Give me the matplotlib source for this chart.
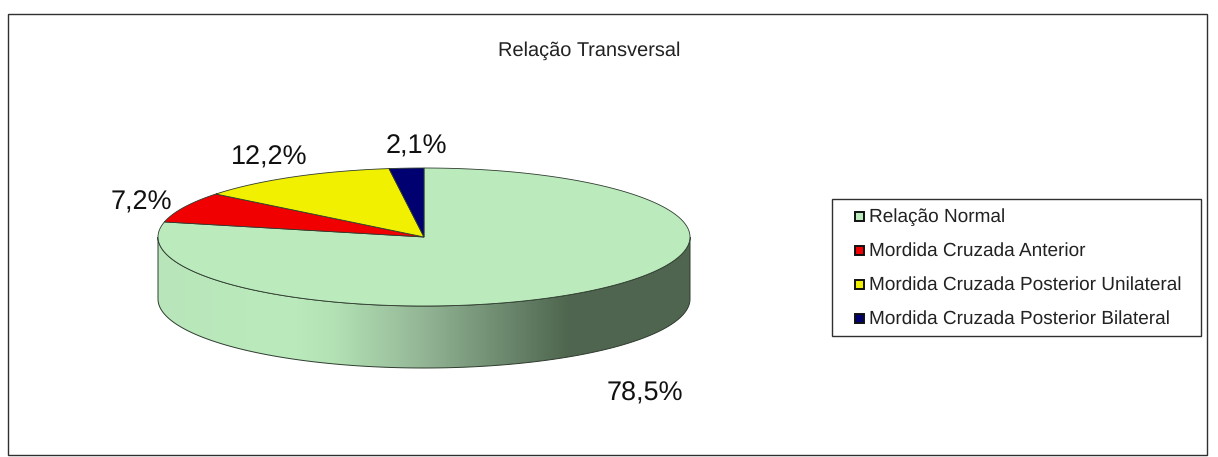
import numpy as np
import matplotlib
matplotlib.use("Agg")
import matplotlib.pyplot as plt
from matplotlib.patches import Polygon, Rectangle
from matplotlib.colors import LinearSegmentedColormap

plt.rcParams['font.family'] = ['Liberation Sans', 'DejaVu Sans']
plt.rcParams['text.hinting'] = 'none'
plt.rcParams['text.hinting_factor'] = 1

# Data
categories = ["Relação Normal", "Mordida Cruzada Anterior",
              "Mordida Cruzada Posterior Unilateral", "Mordida Cruzada Posterior Bilateral"]
values = [78.5, 7.2, 12.2, 2.1]
value_labels = ["78,5%", "7,2%", "12,2%", "2,1%"]
colors = ["#BBEBBD", "#F00000", "#F0F000", "#000070"]

W, H = 1218, 457
cx, cy, rx, ry, depth = 424, 237, 266, 69, 62

fig = plt.figure(figsize=(W / 100, H / 100), dpi=100)
ax = fig.add_axes([0, 0, 1, 1])
ax.set_xlim(0, W)
ax.set_ylim(H, 0)
ax.axis("off")

# outer frame
ax.add_patch(Rectangle((8, 14), 1199, 441, fc="white", ec="#303030", lw=1.0))
ax.text(589.5, 51, "Relação Transversal", ha="center", va="center", fontsize=14.5, color="#222222")


def ell(theta):
    return cx + rx * np.sin(theta), cy - ry * np.cos(theta)


# side wall of the pie with horizontal shading
t = np.linspace(np.pi / 2, 3 * np.pi / 2, 200)
x, y = ell(t)
side = np.column_stack([np.r_[x, x[::-1]], np.r_[y, y[::-1] + depth]])
side_patch = Polygon(side, closed=True, fc="none", ec="none")
ax.add_patch(side_patch)
shade = LinearSegmentedColormap.from_list("shade", [
    (0.0, "#B8E6BA"), (0.25, "#BBEBBD"), (0.33, "#B3E2B5"), (0.5, "#93B595"),
    (0.64, "#6F8C71"), (0.77, "#4F664F"), (1.0, "#4F654F")])
im = ax.imshow(np.linspace(0, 1, 256).reshape(1, -1), cmap=shade, aspect="auto",
               extent=[cx - rx, cx + rx, cy + ry + depth, cy], zorder=1)
im.set_clip_path(side_patch)
ax.set_xlim(0, W)
ax.set_ylim(H, 0)
ax.add_patch(Polygon(side, closed=True, fc="none", ec="#2E3B2E", lw=0.7, zorder=2))

# top face, clockwise from 12 o'clock
edges = np.cumsum([0] + values) / sum(values) * 2 * np.pi
for start, end, color in zip(edges[:-1], edges[1:], colors):
    t = np.linspace(start, end, 200)
    x, y = ell(t)
    pts = np.column_stack([np.r_[cx, x], np.r_[cy, y]])
    ax.add_patch(Polygon(pts, closed=True, fc=color, ec="#2E3B2E", lw=0.6, zorder=3))

# value labels
label_pos = [(645, 394), (141, 203), (269, 158), (416, 147)]
for (lx, ly), text in zip(label_pos, value_labels):
    ax.text(lx, ly, text, ha="center", va="center", fontsize=19.5, color="#111111", zorder=4)

# legend box
ax.add_patch(Rectangle((832, 199), 369, 137, fc="white", ec="#303030", lw=1.0, zorder=4))
for i, (name, color) in enumerate(zip(categories, colors)):
    row = 217 + i * 34
    ax.add_patch(Rectangle((855, row - 5), 9, 9, fc=color, ec="#111111", lw=1.4, zorder=5))
    ax.text(869, row, name, ha="left", va="center", fontsize=13.8, color="#222222", zorder=5)

fig.savefig("out.png", dpi=100)
